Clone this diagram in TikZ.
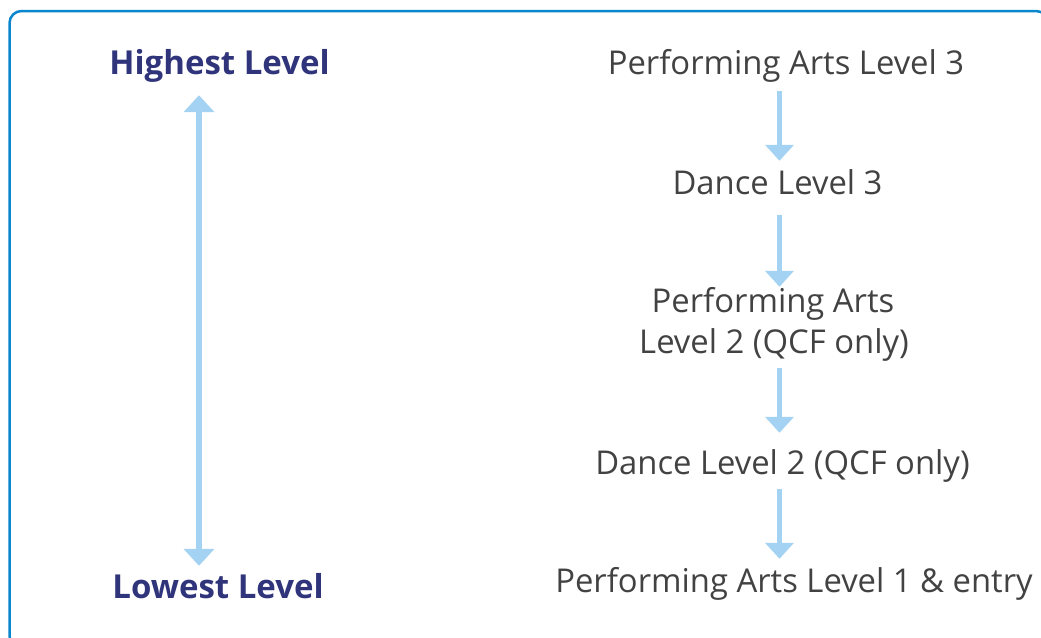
\documentclass[tikz,border=0pt]{standalone}
\usepackage{fontspec}
\setmainfont{Open Sans}
\usetikzlibrary{arrows.meta}
\definecolor{framec}{HTML}{0A86CC}
\definecolor{arrowc}{HTML}{A3D2F3}
\definecolor{navy}{HTML}{30347A}
\definecolor{txt}{HTML}{424242}
\begin{document}
\begin{tikzpicture}[x=1pt,y=-1pt,
  lvl/.style={font=\fontsize{32.8}{41}\selectfont, text=txt, inner sep=0pt, text height=24pt, text depth=0pt, anchor=base},
  side/.style={lvl, text=navy, font=\fontsize{33}{41}\selectfont\bfseries},
  flow/.style={arrowc, line width=5pt, -{Triangle[width=28pt,length=16pt]}},
  scalearrow/.style={arrowc, line width=6pt, {Triangle[width=30pt,length=17pt]}-{Triangle[width=30pt,length=17pt]}}]
\useasboundingbox (0,0) rectangle (1041,637);
\clip (0,0) rectangle (1041,637);
\draw[framec, line width=2.5pt, rounded corners=12pt] (9.5,11) rectangle (1048,648);
% left scale
\node[side] (hi) at (219.5,74) {Highest Level};
\node[side] (lo) at (218,598) {Lowest Level};
\coordinate (lx) at (199,0);
\draw[scalearrow, shorten <=21pt, shorten >=8pt] (hi.south -| lx) -- (lo.north -| lx);
% right chain
\coordinate (ax) at (779.5,0);
\node[lvl] (pa3) at (786,74) {Performing Arts Level 3};
\node[lvl] (d3) at (777.5,194) {Dance Level 3};
\node[lvl] (pa2) at (773,312) {Performing Arts};
\node[lvl] (pa2l) at (774,353) {Level 2 (QCF only)};
\node[lvl] (d2) at (782.5,474) {Dance Level 2 (QCF only)};
\node[lvl] (pa1) at (794,592) {Performing Arts Level 1 \& entry};
\draw[flow, shorten <=17pt, shorten >=9pt] (pa3.south -| ax) -- (d3.north -| ax);
\draw[flow, shorten <=21pt, shorten >=1pt] (d3.south -| ax) -- (pa2.north -| ax);
\draw[flow, shorten <=15pt, shorten >=17pt] (pa2l.south -| ax) -- (d2.north -| ax);
\draw[flow, shorten <=15pt, shorten >=9pt] (d2.south -| ax) -- (pa1.north -| ax);
\end{tikzpicture}
\end{document}
